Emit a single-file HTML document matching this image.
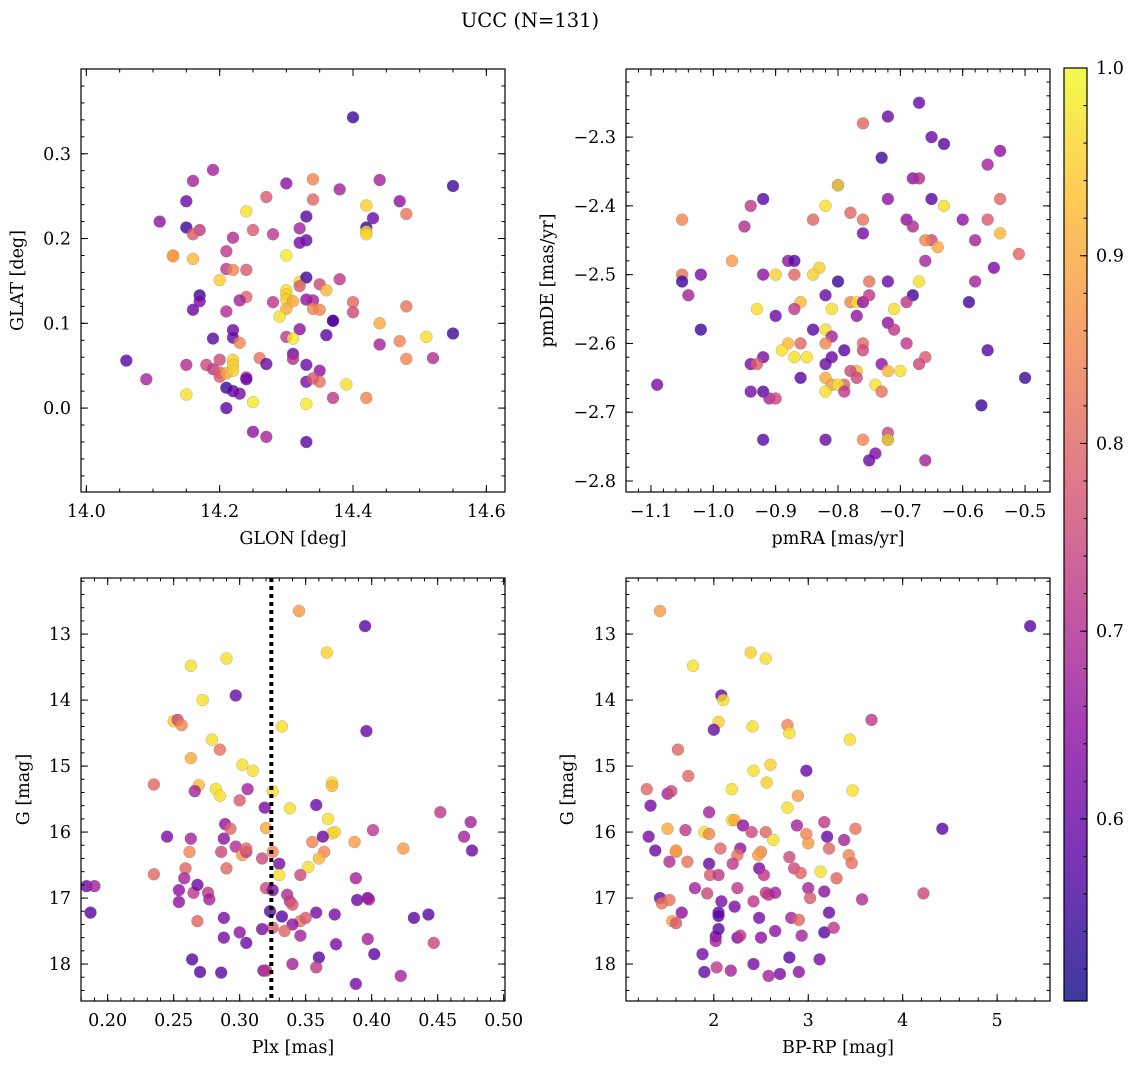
<!DOCTYPE html>
<html><head><meta charset="utf-8"><style>
body{margin:0;background:#fff;}
svg{display:block;font-family:"DejaVu Serif","Liberation Serif",serif;}
</style></head><body>
<svg id="fig" width="1136" height="1068" viewBox="0 0 1136 1068">
<text x="530" y="27" text-anchor="middle" font-size="19.5">UCC (N=131)</text>
</svg>
<script>
// ---- Panel 1: GLON / GLAT ----
const glonVals=[14.40,14.55,14.19,14.16,14.44,14.34,14.30,14.38,14.27,14.15,14.47,14.34,14.42,14.24,14.48,14.11,14.33,14.43,14.15,14.17,14.16,14.42,14.42,14.42,14.25,14.28,14.32,14.22,14.33,14.32,14.13,14.13,14.16,14.21,14.30,14.24,14.21,14.22,14.20,14.32,14.33,14.38,14.35,14.32,14.36,14.30,14.30,14.24,14.23,14.17,14.17,14.16,14.30,14.31,14.28,14.33,14.34,14.30,14.40,14.40,14.34,14.35,14.37,14.37,14.29,14.44,14.48,14.21,14.22,14.32,14.19,14.22,14.23,14.30,14.31,14.36,14.44,14.47,14.51,14.55,14.06,14.15,14.20,14.22,14.22,14.26,14.27,14.31,14.31,14.33,14.35,14.18,14.19,14.20,14.20,14.21,14.22,14.24,14.24,14.33,14.35,14.34,14.48,14.52,14.09,14.15,14.21,14.22,14.23,14.21,14.25,14.33,14.37,14.39,14.42,14.25,14.27,14.33];
const glatVals=[0.343,0.262,0.281,0.268,0.269,0.270,0.265,0.258,0.249,0.244,0.244,0.246,0.239,0.232,0.229,0.220,0.226,0.224,0.213,0.210,0.205,0.213,0.208,0.205,0.210,0.205,0.212,0.201,0.198,0.195,0.180,0.179,0.176,0.185,0.180,0.163,0.164,0.163,0.151,0.149,0.154,0.152,0.146,0.144,0.139,0.139,0.134,0.131,0.127,0.133,0.126,0.116,0.128,0.126,0.125,0.128,0.127,0.117,0.125,0.113,0.117,0.116,0.103,0.103,0.108,0.100,0.120,0.114,0.092,0.093,0.082,0.083,0.077,0.084,0.082,0.086,0.075,0.079,0.084,0.088,0.056,0.051,0.057,0.057,0.051,0.059,0.052,0.064,0.058,0.051,0.044,0.051,0.046,0.042,0.037,0.041,0.044,0.036,0.034,0.031,0.031,0.035,0.058,0.059,0.034,0.016,0.024,0.020,0.017,0.000,0.007,0.005,0.012,0.028,0.012,-0.028,-0.034,-0.040];
const prob1=[0.55,0.55,0.68,0.68,0.68,0.85,0.65,0.68,0.78,0.6,0.65,0.8,0.95,0.97,0.82,0.65,0.58,0.6,0.55,0.72,0.78,0.55,0.98,0.95,0.78,0.72,0.68,0.7,0.6,0.62,0.9,0.88,0.92,0.72,0.98,0.78,0.72,0.85,0.95,0.97,0.55,0.72,0.75,0.78,0.92,0.97,0.95,0.8,0.68,0.55,0.62,0.6,0.95,0.9,0.72,0.65,0.68,0.9,0.8,0.75,0.85,0.85,0.55,0.58,0.97,0.9,0.82,0.7,0.6,0.65,0.58,0.6,0.85,0.72,0.98,0.58,0.68,0.85,0.97,0.55,0.58,0.7,0.75,0.95,0.95,0.82,0.6,0.6,0.7,0.6,0.65,0.75,0.72,0.8,0.78,0.9,0.95,0.68,0.6,0.62,0.82,0.78,0.85,0.7,0.68,0.97,0.55,0.58,0.62,0.58,0.98,0.98,0.72,0.97,0.85,0.65,0.68,0.58];
// ---- Panel 2: pmRA / pmDE ----
const pmraVals=[-0.67,-0.72,-0.76,-0.65,-0.63,-0.54,-0.73,-0.56,-0.68,-0.67,-0.80,-0.80,-0.65,-0.72,-0.54,-0.63,-0.94,-0.92,-0.82,-0.78,-0.76,-0.69,-0.60,-0.56,-1.05,-0.95,-0.84,-0.68,-0.65,-0.66,-0.54,-0.58,-0.64,-0.76,-0.51,-0.97,-0.88,-0.87,-0.83,-0.66,-0.55,-1.05,-1.02,-0.92,-0.90,-0.87,-0.84,-0.80,-0.67,-0.72,-0.75,-0.58,-1.05,-1.04,-0.93,-0.86,-0.82,-0.78,-0.77,-0.76,-0.75,-0.71,-0.68,-0.69,-0.59,-1.02,-0.87,-0.81,-0.77,-0.72,-0.71,-0.90,-0.84,-0.82,-0.81,-0.88,-0.86,-0.82,-0.79,-0.76,-0.76,-0.69,-0.89,-0.87,-0.85,-0.81,-0.92,-0.66,-0.56,-0.94,-0.93,-0.82,-0.73,-0.72,-0.70,-0.67,-0.77,-0.78,-1.09,-0.86,-0.82,-0.81,-0.79,-0.80,-0.77,-0.74,-0.73,-0.50,-0.94,-0.92,-0.91,-0.90,-0.82,-0.79,-0.57,-0.92,-0.82,-0.76,-0.72,-0.72,-0.72,-0.74,-0.75,-0.66];
const pmdeVals=[-2.25,-2.27,-2.28,-2.30,-2.31,-2.32,-2.33,-2.34,-2.36,-2.36,-2.37,-2.37,-2.39,-2.39,-2.39,-2.40,-2.40,-2.39,-2.40,-2.41,-2.42,-2.42,-2.42,-2.42,-2.42,-2.43,-2.42,-2.43,-2.45,-2.45,-2.44,-2.45,-2.46,-2.44,-2.47,-2.48,-2.48,-2.48,-2.49,-2.48,-2.49,-2.50,-2.50,-2.50,-2.50,-2.50,-2.50,-2.51,-2.51,-2.51,-2.51,-2.51,-2.51,-2.53,-2.55,-2.54,-2.53,-2.54,-2.54,-2.54,-2.53,-2.55,-2.53,-2.54,-2.54,-2.58,-2.55,-2.55,-2.56,-2.57,-2.58,-2.56,-2.58,-2.58,-2.59,-2.60,-2.60,-2.60,-2.61,-2.60,-2.61,-2.60,-2.61,-2.62,-2.62,-2.62,-2.62,-2.62,-2.61,-2.63,-2.63,-2.63,-2.63,-2.64,-2.64,-2.63,-2.64,-2.64,-2.66,-2.65,-2.65,-2.66,-2.66,-2.66,-2.65,-2.66,-2.67,-2.65,-2.67,-2.67,-2.68,-2.68,-2.67,-2.67,-2.69,-2.74,-2.74,-2.74,-2.73,-2.74,-2.74,-2.76,-2.77,-2.77];
const prob2=[0.6,0.6,0.8,0.6,0.58,0.65,0.55,0.68,0.65,0.7,0.6,0.97,0.58,0.65,0.8,0.97,0.72,0.58,0.97,0.8,0.82,0.65,0.65,0.78,0.85,0.7,0.8,0.7,0.75,0.85,0.92,0.68,0.9,0.62,0.8,0.88,0.65,0.58,0.95,0.68,0.62,0.82,0.62,0.65,0.95,0.8,0.95,0.55,0.97,0.6,0.82,0.68,0.55,0.68,0.97,0.92,0.6,0.85,0.97,0.65,0.72,0.97,0.55,0.72,0.55,0.55,0.72,0.97,0.65,0.65,0.72,0.6,0.58,0.97,0.68,0.92,0.8,0.85,0.58,0.8,0.75,0.72,0.97,0.97,0.97,0.6,0.62,0.78,0.58,0.62,0.78,0.6,0.65,0.92,0.97,0.75,0.92,0.75,0.62,0.58,0.9,0.88,0.8,0.97,0.75,0.97,0.82,0.55,0.62,0.58,0.68,0.75,0.97,0.72,0.55,0.58,0.6,0.85,0.75,0.6,0.97,0.62,0.6,0.68];
// ---- Panel 3: Plx / G ----
const plxVals=[0.345,0.395,0.366,0.263,0.290,0.297,0.272,0.250,0.253,0.256,0.332,0.396,0.279,0.285,0.263,0.302,0.310,0.235,0.269,0.370,0.370,0.266,0.282,0.285,0.306,0.300,0.325,0.338,0.319,0.358,0.452,0.289,0.293,0.320,0.367,0.370,0.372,0.387,0.401,0.475,0.245,0.263,0.288,0.297,0.302,0.305,0.286,0.262,0.305,0.317,0.325,0.355,0.363,0.364,0.360,0.352,0.424,0.476,0.470,0.259,0.258,0.235,0.254,0.265,0.276,0.290,0.330,0.330,0.346,0.388,0.184,0.190,0.268,0.320,0.325,0.336,0.338,0.340,0.389,0.397,0.398,0.254,0.277,0.187,0.268,0.288,0.323,0.332,0.346,0.350,0.358,0.372,0.432,0.443,0.325,0.340,0.334,0.346,0.317,0.300,0.288,0.305,0.397,0.373,0.447,0.264,0.360,0.402,0.340,0.358,0.270,0.286,0.318,0.320,0.422,0.388];
const gmag3=[12.65,12.88,13.28,13.48,13.37,13.93,14.0,14.32,14.30,14.38,14.40,14.47,14.60,14.75,14.88,14.98,15.07,15.28,15.29,15.25,15.30,15.38,15.35,15.45,15.35,15.52,15.38,15.64,15.63,15.59,15.70,15.88,15.95,15.94,15.80,16.02,16.00,16.15,15.97,15.85,16.07,16.10,16.10,16.22,16.35,16.30,16.30,16.30,16.25,16.40,16.30,16.15,16.07,16.30,16.40,16.53,16.25,16.28,16.07,16.55,16.70,16.64,16.88,16.92,16.92,16.55,16.48,16.65,16.65,16.70,16.82,16.82,16.80,16.85,16.88,16.95,17.05,17.10,17.03,17.00,17.02,17.06,17.02,17.22,17.35,17.30,17.20,17.28,17.35,17.30,17.22,17.25,17.30,17.25,17.45,17.40,17.50,17.57,17.47,17.52,17.60,17.68,17.62,17.70,17.68,17.93,17.90,17.85,18.00,18.05,18.12,18.13,18.10,18.10,18.18,18.30];
const prob3=[0.88,0.58,0.95,0.97,0.97,0.6,0.97,0.95,0.75,0.85,0.97,0.6,0.97,0.82,0.9,0.97,0.97,0.8,0.92,0.97,0.92,0.68,0.97,0.97,0.68,0.78,0.97,0.97,0.62,0.6,0.72,0.65,0.8,0.9,0.97,0.97,0.95,0.88,0.72,0.68,0.62,0.68,0.65,0.7,0.88,0.72,0.75,0.85,0.8,0.75,0.85,0.85,0.6,0.85,0.92,0.97,0.88,0.6,0.68,0.8,0.68,0.8,0.65,0.72,0.72,0.8,0.62,0.97,0.75,0.68,0.6,0.68,0.6,0.75,0.62,0.7,0.72,0.78,0.6,0.58,0.68,0.65,0.68,0.58,0.8,0.62,0.58,0.58,0.82,0.78,0.62,0.62,0.58,0.58,0.78,0.65,0.8,0.68,0.62,0.65,0.62,0.6,0.68,0.62,0.75,0.58,0.58,0.58,0.68,0.72,0.58,0.58,0.62,0.72,0.68,0.62];
const plxLine=0.324;
// ---- Panel 4: BP-RP / G ----
const bprpVals=[1.43,5.35,2.39,1.78,2.55,2.08,2.10,2.05,2.00,2.41,2.78,2.80,3.67,3.44,1.62,2.60,2.42,2.98,1.73,2.19,2.56,2.89,3.47,1.29,1.51,1.55,1.33,2.78,1.95,2.19,2.22,2.31,2.88,3.17,3.50,4.42,1.31,1.51,1.70,1.90,1.95,2.40,2.55,2.63,2.98,3.20,3.38,1.38,1.60,1.60,2.07,2.28,2.25,2.50,2.47,2.80,3.00,3.22,3.43,3.46,3.13,1.53,1.72,1.95,2.20,2.48,2.85,1.96,2.05,2.53,2.92,3.30,1.80,1.93,2.25,2.55,3.00,3.17,4.22,1.43,1.45,1.53,2.08,2.42,2.58,2.65,3.02,3.57,1.66,2.05,2.22,2.48,2.82,3.22,1.56,1.60,2.05,2.90,2.05,2.25,2.28,2.65,2.93,3.17,3.27,2.02,2.02,2.50,1.88,2.80,3.12,2.03,2.18,2.42,1.90,2.58,2.70,2.90];
const gmag4=[12.65,12.88,13.28,13.48,13.37,13.93,14.0,14.33,14.45,14.40,14.38,14.50,14.30,14.60,14.75,14.98,15.07,15.07,15.15,15.35,15.25,15.45,15.37,15.35,15.42,15.38,15.60,15.63,15.70,15.82,15.82,15.90,15.90,15.85,15.95,15.95,16.07,15.95,15.97,16.00,16.03,16.00,16.00,16.12,16.03,16.07,16.12,16.28,16.30,16.28,16.25,16.25,16.35,16.30,16.35,16.38,16.17,16.25,16.35,16.47,16.60,16.45,16.45,16.48,16.48,16.55,16.55,16.65,16.65,16.65,16.62,16.70,16.85,16.93,16.85,16.92,16.85,16.90,16.93,17.00,17.08,17.03,17.05,17.05,16.95,16.92,17.00,17.02,17.22,17.22,17.13,17.30,17.30,17.22,17.35,17.38,17.27,17.33,17.47,17.60,17.57,17.50,17.57,17.52,17.45,17.58,17.65,17.60,17.85,17.90,17.93,18.05,18.10,18.00,18.12,18.18,18.15,18.12];
const prob4=[0.88,0.58,0.95,0.97,0.97,0.6,0.97,0.95,0.6,0.97,0.85,0.97,0.72,0.97,0.8,0.95,0.97,0.6,0.8,0.97,0.95,0.88,0.97,0.8,0.68,0.75,0.62,0.97,0.68,0.97,0.9,0.65,0.68,0.72,0.82,0.58,0.62,0.9,0.72,0.97,0.85,0.75,0.8,0.97,0.85,0.6,0.68,0.6,0.88,0.88,0.8,0.65,0.82,0.85,0.88,0.75,0.88,0.8,0.85,0.82,0.97,0.7,0.82,0.6,0.72,0.62,0.75,0.78,0.72,0.72,0.8,0.8,0.68,0.75,0.72,0.72,0.68,0.65,0.75,0.6,0.82,0.82,0.62,0.72,0.72,0.68,0.78,0.7,0.65,0.58,0.62,0.62,0.68,0.6,0.88,0.78,0.58,0.8,0.58,0.62,0.72,0.65,0.68,0.58,0.72,0.6,0.68,0.65,0.62,0.58,0.62,0.72,0.68,0.62,0.6,0.68,0.62,0.65];
// tick labels
const ticks1x=[14.0,14.2,14.4,14.6], ticks1y=[0.0,0.1,0.2,0.3];
const ticks2x=[-1.1,-1.0,-0.9,-0.8,-0.7,-0.6,-0.5], ticks2y=[-2.8,-2.7,-2.6,-2.5,-2.4,-2.3];
const ticks3x=[0.20,0.25,0.30,0.35,0.40,0.45,0.50], ticks3y=[13,14,15,16,17,18];
const ticks4x=[2,3,4,5], ticks4y=[13,14,15,16,17,18];
const cbTicks=[0.6,0.7,0.8,0.9,1.0];
const cbMin=0.503, cbMax=1.0;

const NS='http://www.w3.org/2000/svg';
const svg=document.getElementById('fig');
const FS=17.5;
function mk(tag,attrs,parent){const e=document.createElementNS(NS,tag);for(const k in attrs)e.setAttribute(k,attrs[k]);(parent||svg).appendChild(e);return e;}
const plasma=[[13,8,135],[84,2,163],[139,10,165],[185,50,137],[219,92,104],[244,136,73],[254,188,43],[240,249,33]];
function cmap(v){let t=(v-cbMin)/(cbMax-cbMin);t=Math.max(0,Math.min(1,t));const f=t*(plasma.length-1);const i=Math.min(plasma.length-2,Math.floor(f));const r=f-i;const c=plasma[i].map((a,k)=>Math.round(a+(plasma[i+1][k]-a)*r));return `rgb(${c[0]},${c[1]},${c[2]})`;}
function fmt(v,d){let s=v.toFixed(d);return s.replace('-','\u2212');}

function panel(o){
  const g=mk('g',{});
  
  
  const [L,T,R,B]=o.box;
  const sx=v=>L+(v-o.xl[0])/(o.xl[1]-o.xl[0])*(R-L);
  const sy=o.inv?(v=>T+(v-o.yl[0])/(o.yl[1]-o.yl[0])*(B-T)):(v=>B-(v-o.yl[0])/(o.yl[1]-o.yl[0])*(B-T));
  const cl='clip'+o.name;
  const cp=mk('clipPath',{id:cl},g);mk('rect',{x:L,y:T,width:R-L,height:B-T},cp);
  const pts=mk('g',{'clip-path':`url(#${cl})`},g);
  
  
  for(let i=0;i<o.xs.length;i++){
    const c=mk('circle',{cx:sx(o.xs[i]),cy:sy(o.ys[i]),r:6,fill:cmap(o.ps[i]),'fill-opacity':0.8,stroke:'#777','stroke-width':0.4,'stroke-opacity':0.6},pts);
    
    
  }
  if(o.vline!==undefined){
    const l=mk('line',{x1:sx(o.vline),x2:sx(o.vline),y1:T,y2:B,stroke:'#000','stroke-width':4,'stroke-dasharray':'4 4'},pts);
    
    
  }
  mk('rect',{x:L,y:T,width:R-L,height:B-T,fill:'none',stroke:'#000','stroke-width':1.2},g);
  function xt(v,len){const x=sx(v);if(x<L-0.5||x>R+0.5)return;mk('line',{x1:x,x2:x,y1:B,y2:B-len,stroke:'#000','stroke-width':1},g);mk('line',{x1:x,x2:x,y1:T,y2:T+len,stroke:'#000','stroke-width':1},g);}
  function yt(v,len){const y=sy(v);if(y<T-0.5||y>B+0.5)return;mk('line',{x1:L,x2:L+len,y1:y,y2:y,stroke:'#000','stroke-width':1},g);mk('line',{x1:R,x2:R-len,y1:y,y2:y,stroke:'#000','stroke-width':1},g);}
  const xs=o.tx[1]-o.tx[0], ys=o.ty[1]-o.ty[0];
  for(let v=o.tx[0]-xs;v<=o.tx[o.tx.length-1]+xs+1e-9;v+=xs/o.mx)xt(v,3.5);
  for(let v=o.ty[0]-ys;v<=o.ty[o.ty.length-1]+ys+1e-9;v+=ys/o.my)yt(v,3.5);
  o.tx.forEach(v=>{xt(v,7);const t=mk('text',{x:sx(v),y:B+25,'text-anchor':'middle','font-size':FS},g);t.textContent=fmt(v,o.dx);});
  o.ty.forEach(v=>{yt(v,7);const t=mk('text',{x:L-10,y:sy(v)+6,'text-anchor':'end','font-size':FS},g);t.textContent=fmt(v,o.dy);});
  const xl=mk('text',{x:(L+R)/2,y:B+52,'text-anchor':'middle','font-size':FS},g);xl.textContent=o.xlab;
  
  const yx=o.ylx,yy=(T+B)/2;
  const yl=mk('text',{x:yx,y:yy,'text-anchor':'middle','font-size':FS,transform:`rotate(-90 ${yx} ${yy})`},g);yl.textContent=o.ylab;
  
}
panel({name:'glon-glat-panel',box:[81,69,505,492],xl:[13.992,14.628],yl:[-0.099,0.4],xs:glonVals,ys:glatVals,ps:prob1,tx:ticks1x,ty:ticks1y,mx:4,my:5,dx:1,dy:1,xlab:'GLON [deg]',ylab:'GLAT [deg]',ylx:23});
panel({name:'pm-panel',box:[626,69,1050,492],xl:[-1.14,-0.46],yl:[-2.816,-2.201],xs:pmraVals,ys:pmdeVals,ps:prob2,tx:ticks2x,ty:ticks2y,mx:5,my:5,dx:1,dy:1,xlab:'pmRA [mas/yr]',ylab:'pmDE [mas/yr]',ylx:553});
panel({name:'plx-g-panel',box:[81,578,505,1001],xl:[0.1798,0.501],yl:[12.15,18.56],inv:true,xs:plxVals,ys:gmag3,ps:prob3,tx:ticks3x,ty:ticks3y,mx:5,my:5,dx:2,dy:0,xlab:'Plx [mas]',ylab:'G [mag]',ylx:29,vline:plxLine});
panel({name:'cmd-panel',box:[626,578,1050,1001],xl:[1.07,5.56],yl:[12.15,18.56],inv:true,xs:bprpVals,ys:gmag4,ps:prob4,tx:ticks4x,ty:ticks4y,mx:5,my:5,dx:0,dy:0,xlab:'BP-RP [mag]',ylab:'G [mag]',ylx:573});
// colorbar
(function(){
  const L=1064,R=1087,T=68,B=1001;
  const g=mk('g',{});
  
  
  const d=mk('defs',{},g);const lg=mk('linearGradient',{id:'cbg',x1:0,y1:1,x2:0,y2:0},d);
  for(let i=0;i<=20;i++){const v=cbMin+(cbMax-cbMin)*i/20;mk('stop',{offset:i/20,'stop-color':cmap(v),'stop-opacity':0.8},lg);}
  mk('rect',{x:L,y:T,width:R-L,height:B-T,fill:'url(#cbg)',stroke:'#000','stroke-width':1.2},g);
  const sy=v=>B-(v-cbMin)/(cbMax-cbMin)*(B-T);
  for(let v=0.52;v<=1.0001;v+=0.02){mk('line',{x1:R,x2:R-3.5,y1:sy(v),y2:sy(v),stroke:'#000','stroke-width':1},g);}
  cbTicks.forEach(v=>{mk('line',{x1:R,x2:R-7,y1:sy(v),y2:sy(v),stroke:'#000','stroke-width':1},g);const t=mk('text',{x:R+9,y:sy(v)+6,'font-size':FS},g);t.textContent=v.toFixed(1);});
})();
</script>
</body></html>
